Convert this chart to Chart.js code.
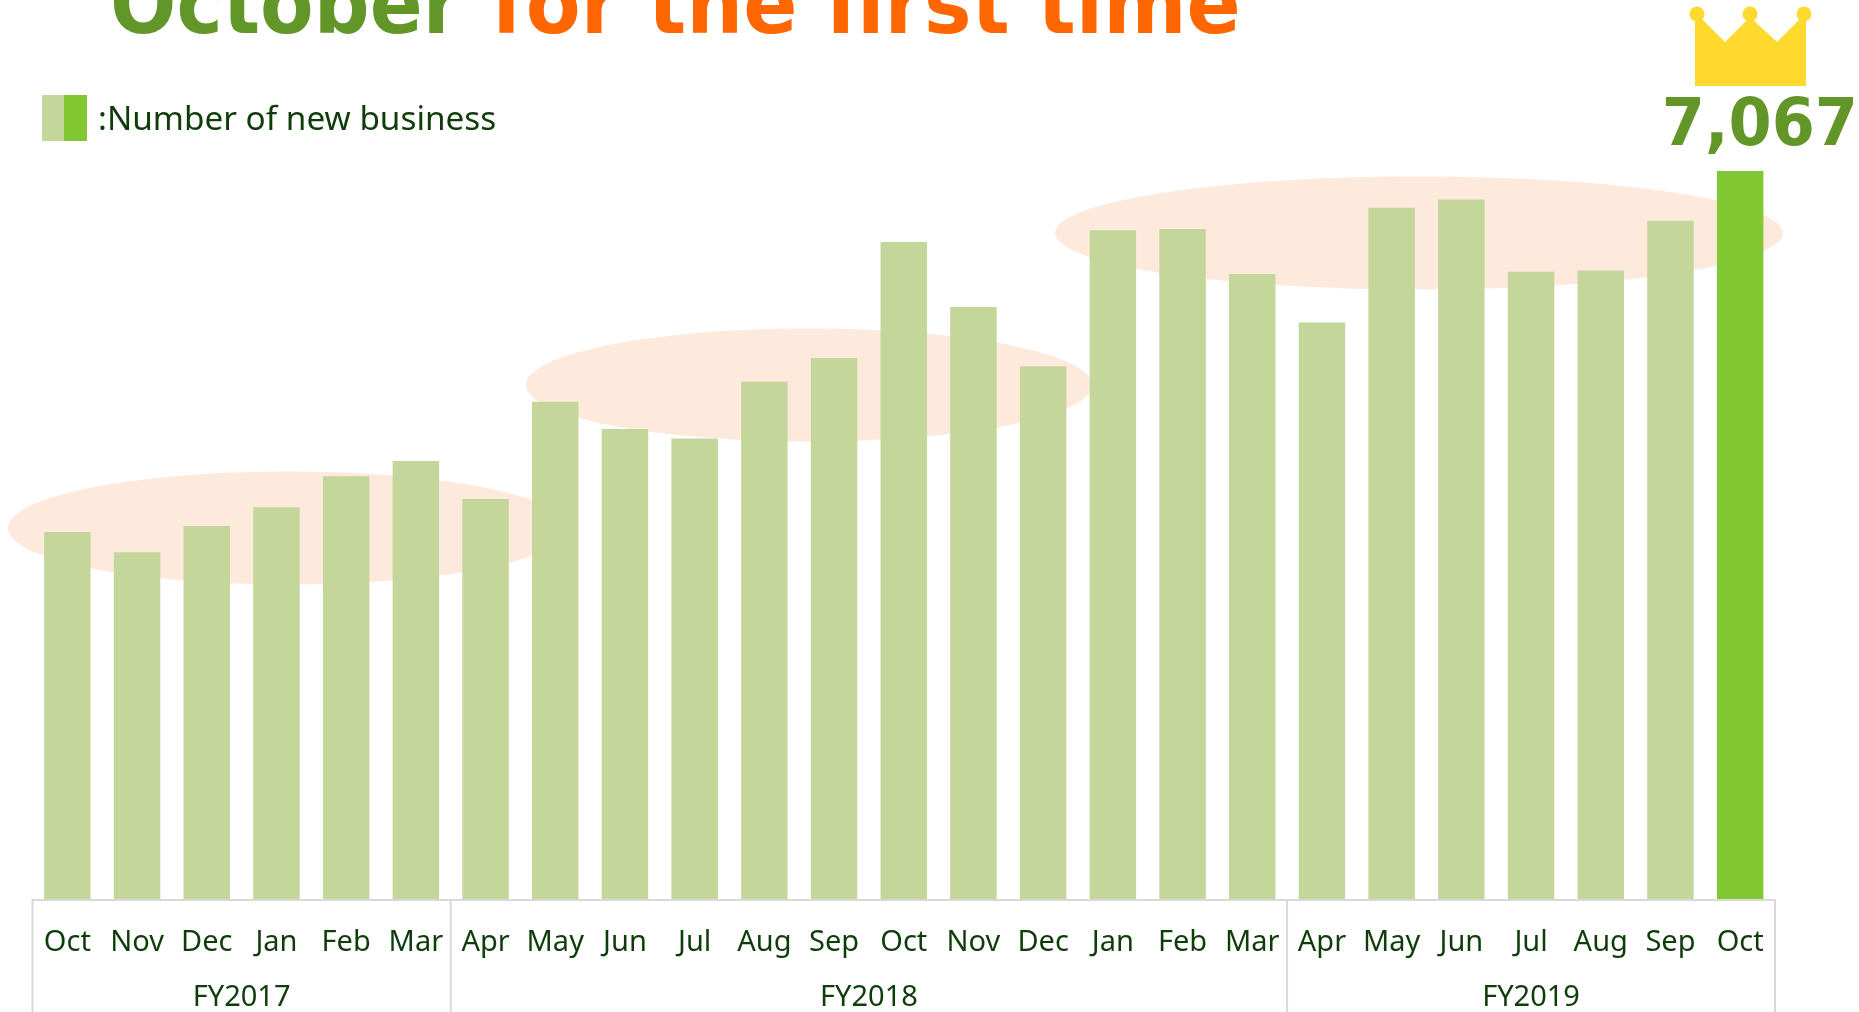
<!DOCTYPE html>
<html>
<head>
<meta charset="utf-8">
<title>Number of new business</title>
<script src="https://cdn.jsdelivr.net/npm/chart.js@4/dist/chart.umd.js"></script>
<style>
html, body { margin: 0; padding: 0; background: #fff; overflow: hidden; }
#wrap { width: 1859px; height: 1012px; }
</style>
</head>
<body>
<div id="wrap"><canvas id="grafico"></canvas></div>
<script>
var months = ['Oct','Nov','Dec','Jan','Feb','Mar','Apr','May','Jun','Jul','Aug','Sep','Oct','Nov','Dec','Jan','Feb','Mar','Apr','May','Jun','Jul','Aug','Sep','Oct'];
var newBusiness = [3562,3367,3620,3804,4103,4252,3884,4827,4562,4470,5022,5252,6378,5746,5171,6493,6504,6067,5597,6711,6791,6090,6102,6585,7067];
var yearNames = ['FY2017','FY2018','FY2019'];
var yearFirstMonth = [0,6,18];
var yearLastMonth = [5,17,24];

var LIGHT = '#c4d69a';
var DARK = '#82c832';
var TEXT = '#0f3d0a';
var FONT = '"Noto Sans"';
var BOLD_FONT = '"DejaVu Sans"';

var barColors = [];
for (var i = 0; i < newBusiness.length; i++) {
    barColors.push(i === newBusiness.length - 1 ? DARK : LIGHT);
}

function ellipse(ctx, x, y, rx, ry) {
    ctx.beginPath();
    ctx.ellipse(x, y, rx, ry, 0, 0, Math.PI * 2);
    ctx.fill();
}

// bold text squeezed a bit, the source font is narrower than DejaVu
function squeezedText(ctx, text, x, y, sx) {
    ctx.save();
    ctx.translate(x, y);
    ctx.scale(sx, 1);
    ctx.fillText(text, 0, 0);
    ctx.restore();
}

// soft ovals behind the bars
var ovalsPlugin = {
    id: 'ovals',
    beforeDatasetsDraw: function (chart) {
        var ctx = chart.ctx;
        ctx.save();
        ctx.fillStyle = '#fdeadc';
        ellipse(ctx, 288, 528, 280, 56.5);
        ellipse(ctx, 809, 385, 283, 56.5);
        ellipse(ctx, 1419, 233, 364, 56.5);
        ctx.restore();
    }
};

// frame under the bars, FY names, title, legend, crown
var extrasPlugin = {
    id: 'extras',
    afterDraw: function (chart) {
        var ctx = chart.ctx;
        var x = chart.scales.x;
        var base = chart.scales.y.getPixelForValue(0);
        var half = (x.getPixelForValue(1) - x.getPixelForValue(0)) / 2;
        ctx.save();

        ctx.strokeStyle = '#d9d9d9';
        ctx.lineWidth = 2;
        ctx.beginPath();
        ctx.moveTo(x.left, 1012);
        ctx.lineTo(x.left, base + 1);
        ctx.lineTo(x.right, base + 1);
        ctx.lineTo(x.right, 1012);
        for (var i = 1; i < yearFirstMonth.length; i++) {
            var d = x.getPixelForValue(yearFirstMonth[i]) - half;
            ctx.moveTo(d, base + 1);
            ctx.lineTo(d, 1012);
        }
        ctx.stroke();

        ctx.fillStyle = TEXT;
        ctx.font = '29px ' + FONT;
        ctx.textAlign = 'center';
        ctx.textBaseline = 'middle';
        for (var j = 0; j < yearNames.length; j++) {
            var mid = (x.getPixelForValue(yearFirstMonth[j]) + x.getPixelForValue(yearLastMonth[j])) / 2;
            ctx.fillText(yearNames[j], mid, 998);
        }

        // title, cut off by the top edge like the source
        ctx.textAlign = 'left';
        ctx.textBaseline = 'alphabetic';
        ctx.font = 'bold 84px ' + BOLD_FONT;
        ctx.fillStyle = '#639628';
        squeezedText(ctx, 'October', 110, 33, 0.93);
        ctx.fillStyle = '#ff6600';
        squeezedText(ctx, 'for the first time', 491, 33, 0.952);

        // legend
        ctx.fillStyle = LIGHT;
        ctx.fillRect(42, 95, 22, 46);
        ctx.fillStyle = DARK;
        ctx.fillRect(64, 95, 23, 46);
        ctx.fillStyle = TEXT;
        ctx.font = '33.3px ' + FONT;
        ctx.fillText(':Number of new business', 98, 130);

        // crown
        ctx.fillStyle = '#ffd92d';
        ctx.beginPath();
        ctx.moveTo(1695, 18);
        ctx.lineTo(1701, 18);
        ctx.lineTo(1725, 42);
        ctx.lineTo(1750, 17);
        ctx.lineTo(1777, 42);
        ctx.lineTo(1801, 18);
        ctx.lineTo(1806, 18);
        ctx.lineTo(1806, 86);
        ctx.lineTo(1695, 86);
        ctx.closePath();
        ctx.fill();
        ellipse(ctx, 1697, 14, 7.5, 7.5);
        ellipse(ctx, 1750, 14, 7.5, 7.5);
        ellipse(ctx, 1804, 14, 7.5, 7.5);

        // value of the last bar
        ctx.fillStyle = '#639628';
        ctx.font = 'bold 66px ' + BOLD_FONT;
        ctx.textAlign = 'right';
        squeezedText(ctx, '7,067', 1858, 145, 0.94);

        ctx.restore();
    }
};

var ctx = document.getElementById('grafico');
var chart = new Chart(ctx, {
    type: 'bar',
    data: {
        labels: months,
        datasets: [{
            label: 'Number of new business',
            data: newBusiness,
            backgroundColor: barColors,
            barPercentage: 0.667,
            categoryPercentage: 1
        }]
    },
    options: {
        responsive: true,
        maintainAspectRatio: false,
        animation: false,
        layout: { padding: { top: 171, left: 32.5, right: 84, bottom: 0 } },
        plugins: { legend: { display: false }, tooltip: { enabled: false } },
        scales: {
            x: {
                afterFit: function (scale) { scale.height = 113; },
                grid: { display: false },
                border: { display: false },
                ticks: {
                    color: TEXT,
                    font: { family: 'Noto Sans', size: 29 },
                    padding: 18,
                    maxRotation: 0,
                    autoSkip: false
                }
            },
            y: {
                display: false,
                min: 0,
                max: 7067
            }
        }
    },
    plugins: [ovalsPlugin, extrasPlugin]
});
</script>
</body>
</html>
